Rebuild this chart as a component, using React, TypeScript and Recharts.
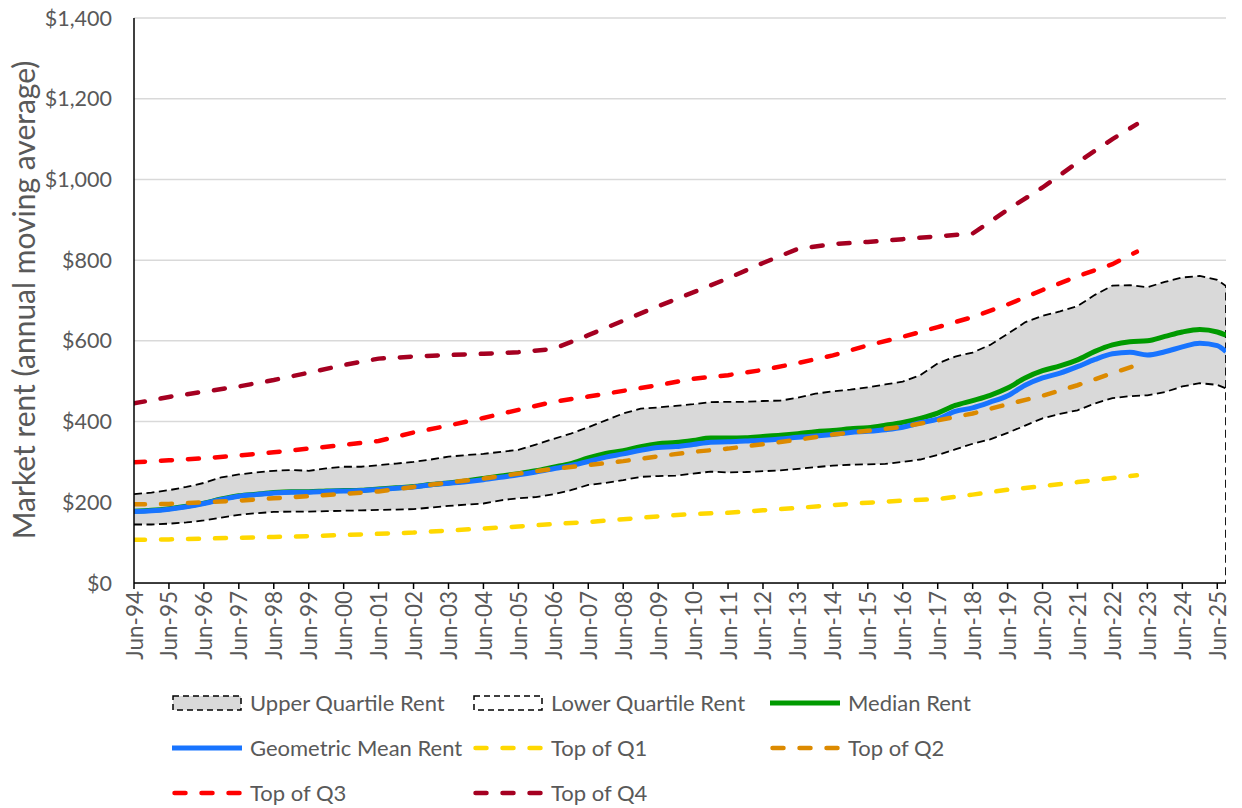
import React from 'react';
import { ComposedChart, Area, Line, XAxis, YAxis, CartesianGrid } from 'recharts';

const TICK_LABELS = [
  'Jun-94', 'Jun-95', 'Jun-96', 'Jun-97', 'Jun-98', 'Jun-99', 'Jun-00', 'Jun-01',
  'Jun-02', 'Jun-03', 'Jun-04', 'Jun-05', 'Jun-06', 'Jun-07', 'Jun-08', 'Jun-09',
  'Jun-10', 'Jun-11', 'Jun-12', 'Jun-13', 'Jun-14', 'Jun-15', 'Jun-16', 'Jun-17',
  'Jun-18', 'Jun-19', 'Jun-20', 'Jun-21', 'Jun-22', 'Jun-23', 'Jun-24', 'Jun-25',
];
const Y_TICKS = [0, 200, 400, 600, 800, 1000, 1200, 1400];

// half-yearly from Jun-94, the last value is the latest month (~Sep-25)
const UPPER = [
  220, 224, 230, 238, 248, 262, 269, 274, 278, 280,
  278, 284, 288, 288, 292, 296, 300, 306, 313, 317,
  320, 325, 330, 343, 357, 370, 386, 403, 420, 432,
  435, 439, 443, 448, 449, 449, 451, 452, 459, 469,
  475, 479, 485, 492, 499, 515, 544, 561, 571, 590,
  617, 646, 662, 673, 686, 714, 737, 738, 733, 746,
  757, 761, 751, 736,
];
const LOWER = [
  145, 145, 147, 150, 155, 162, 169, 173, 176, 177,
  177, 178, 179, 180, 181, 182, 183, 187, 191, 194,
  197, 205, 210, 213, 220, 230, 243, 248, 255, 263,
  265, 266, 271, 276, 274, 275, 277, 279, 283, 287,
  291, 293, 294, 295, 300, 306, 317, 331, 345, 356,
  372, 390, 408, 419, 428, 445, 458, 463, 465, 473,
  487, 495, 491, 482,
];
const MEDIAN = [
  178, 180, 184, 190, 198, 208, 216, 220, 224, 226,
  226, 228, 229, 230, 233, 236, 239, 244, 248, 253,
  259, 265, 271, 278, 287, 296, 310, 321, 328, 338,
  345, 348, 353, 359, 359, 360, 363, 366, 370, 375,
  378, 382, 385, 391, 398, 408, 421, 440, 452, 465,
  483, 508, 526, 538, 553, 574, 590, 598, 600, 611,
  622, 628, 622, 614,
];
const GEO_MEAN = [
  177, 179, 183, 189, 197, 207, 215, 219, 223, 225,
  225, 227, 228, 229, 232, 235, 238, 243, 247, 251,
  256, 262, 268, 275, 283, 291, 301, 312, 320, 329,
  336, 338, 343, 349, 350, 352, 354, 357, 361, 364,
  368, 373, 376, 380, 386, 397, 406, 425, 434, 448,
  464, 490, 508, 520, 536, 554, 568, 572, 565, 573,
  585, 594, 588, 573,
];

// yearly from Jun-94, the last value is early 2023
const TOP_Q1 = [
  107, 108, 110, 112, 114, 116, 119, 122, 125, 130,
  135, 140, 146, 151, 158, 165, 171, 174, 180, 186,
  193, 199, 204, 208, 219, 231, 240, 250, 260, 267,
];
const TOP_Q2 = [
  195, 196, 200, 204, 210, 215, 221, 227, 238, 249,
  259, 271, 283, 292, 302, 314, 325, 333, 344, 355,
  368, 377, 387, 403, 420, 443, 464, 490, 520, 540,
];
const TOP_Q3 = [
  299, 304, 309, 316, 324, 333, 342, 352, 373, 390,
  409, 429, 449, 462, 476, 490, 506, 515, 528, 545,
  564, 589, 610, 634, 659, 690, 726, 760, 790, 821,
];
const TOP_Q4 = [
  445, 461, 474, 487, 503, 521, 540, 556, 561, 565,
  568, 572, 580, 614, 650, 686, 720, 755, 793, 828,
  840, 845, 852, 859, 866, 925, 980, 1042, 1100, 1137,
];

const LAST_T = 31.25;
const Q_LAST_T = 28.7;

const bandData: any[] = UPPER.map((u, i) => ({
  t: i === UPPER.length - 1 ? LAST_T : i * 0.5,
  upper: u,
  lower: LOWER[i],
  median: MEDIAN[i],
  geo: GEO_MEAN[i],
}));
// excel closes both areas down to zero at the last month
bandData.push({ t: LAST_T, upper: 0, lower: 0 });

const qData = TOP_Q1.map((v, i) => ({
  t: i === TOP_Q1.length - 1 ? Q_LAST_T : i,
  q1: v,
  q2: TOP_Q2[i],
  q3: TOP_Q3[i],
  q4: TOP_Q4[i],
}));

const GREY = '#595959';
const FONT = 'Lato, sans-serif';
const QDASH = '11 16';

const LEGEND = [
  { name: 'Upper Quartile Rent', kind: 'box', color: '#d9d9d9' },
  { name: 'Lower Quartile Rent', kind: 'box', color: '#ffffff' },
  { name: 'Median Rent', kind: 'line', color: '#009a00' },
  { name: 'Geometric Mean Rent', kind: 'line', color: '#1874ff' },
  { name: 'Top of Q1', kind: 'dash', color: '#ffd800' },
  { name: 'Top of Q2', kind: 'dash', color: '#dc8a00' },
  { name: 'Top of Q3', kind: 'dash', color: '#ff0000' },
  { name: 'Top of Q4', kind: 'dash', color: '#a50021' },
];

const XTick = (props: any) => {
  const { x, y, payload } = props;
  return (
    <text
      x={x}
      y={y}
      transform={`rotate(-90 ${x} ${y})`}
      textAnchor="end"
      dominantBaseline="central"
      fill={GREY}
      fontSize={22.5}
      fontFamily={FONT}
    >
      {TICK_LABELS[Math.round(payload.value)]}
    </text>
  );
};

const YTitle = () => (
  <text
    x={23}
    y={300}
    transform="rotate(-90 23 300)"
    textAnchor="middle"
    dominantBaseline="central"
    fill={GREY}
    fontSize={30}
    fontFamily={FONT}
  >
    Market rent (annual moving average)
  </text>
);

function Symbol({ kind, color }: { kind: string; color: string }) {
  return (
    <svg width={70} height={20} style={{ flex: 'none' }}>
      {kind === 'box' && (
        <rect x={1} y={3} width={68} height={14} fill={color} stroke="#000" strokeWidth={1.5} strokeDasharray="6 4" />
      )}
      {kind === 'line' && <line x1={0} y1={10} x2={70} y2={10} stroke={color} strokeWidth={5} />}
      {kind === 'dash' && (
        <line x1={2.5} y1={10} x2={70} y2={10} stroke={color} strokeWidth={4.5} strokeLinecap="round" strokeDasharray={QDASH} />
      )}
    </svg>
  );
}

export default function App() {
  return (
    <div style={{ position: 'absolute', left: 0, top: 0, width: 1242, height: 808, background: '#fff' }}>
      <ComposedChart
        width={1242}
        height={808}
        data={bandData}
        margin={{ top: 18, right: 16, bottom: 145, left: 0 }}
        style={{ fontFamily: FONT }}
      >
        <CartesianGrid vertical={false} stroke="#d9d9d9" strokeWidth={1.5} />
        <XAxis
          dataKey="t"
          type="number"
          domain={[0, LAST_T]}
          ticks={TICK_LABELS.map((_, i) => i)}
          interval={0}
          tick={<XTick />}
          tickLine={{ stroke: '#000', strokeWidth: 1.5 }}
          tickSize={6}
          axisLine={{ stroke: '#000', strokeWidth: 1.5 }}
          height={80}
          allowDataOverflow
        />
        <YAxis
          type="number"
          domain={[0, 1400]}
          ticks={Y_TICKS}
          interval={0}
          width={134}
          tickLine={false}
          tickSize={0}
          tickMargin={22}
          axisLine={{ stroke: '#000', strokeWidth: 1.5 }}
          tick={{ fill: GREY, fontSize: 21.5, fontFamily: FONT }}
          tickFormatter={(v: number) => `$${v.toLocaleString('en-US')}`}
          label={<YTitle />}
        />
        <Area
          dataKey="upper"
          type="linear"
          fill="#d9d9d9"
          fillOpacity={1}
          stroke="#000"
          strokeWidth={1.8}
          strokeDasharray="8 4.5"
          isAnimationActive={false}
        />
        <Area
          dataKey="lower"
          type="linear"
          fill="#ffffff"
          fillOpacity={1}
          stroke="#000"
          strokeWidth={1.8}
          strokeDasharray="8 4.5"
          isAnimationActive={false}
        />
        <Line dataKey="median" type="monotone" stroke="#009a00" strokeWidth={5} dot={false} isAnimationActive={false} />
        <Line dataKey="geo" type="monotone" stroke="#1874ff" strokeWidth={5} dot={false} isAnimationActive={false} />
        <Line data={qData} dataKey="q1" type="linear" stroke="#ffd800" strokeWidth={4.5} strokeLinecap="round" strokeDasharray={QDASH} dot={false} isAnimationActive={false} />
        <Line data={qData} dataKey="q2" type="linear" stroke="#dc8a00" strokeWidth={4.5} strokeLinecap="round" strokeDasharray={QDASH} dot={false} isAnimationActive={false} />
        <Line data={qData} dataKey="q3" type="linear" stroke="#ff0000" strokeWidth={4.5} strokeLinecap="round" strokeDasharray={QDASH} dot={false} isAnimationActive={false} />
        <Line data={qData} dataKey="q4" type="linear" stroke="#a50021" strokeWidth={4.5} strokeLinecap="round" strokeDasharray={QDASH} dot={false} isAnimationActive={false} />
      </ComposedChart>

      <div
        style={{
          position: 'absolute',
          left: 172,
          top: 680,
          display: 'grid',
          gridTemplateColumns: '301px 297px 300px',
          gridAutoRows: '45px',
          fontFamily: FONT,
          fontSize: 22,
          color: GREY,
        }}
      >
        {LEGEND.map((item) => (
          <div key={item.name} style={{ display: 'flex', alignItems: 'center', gap: 8, whiteSpace: 'nowrap' }}>
            <Symbol kind={item.kind} color={item.color} />
            <span>{item.name}</span>
          </div>
        ))}
      </div>
    </div>
  );
}
